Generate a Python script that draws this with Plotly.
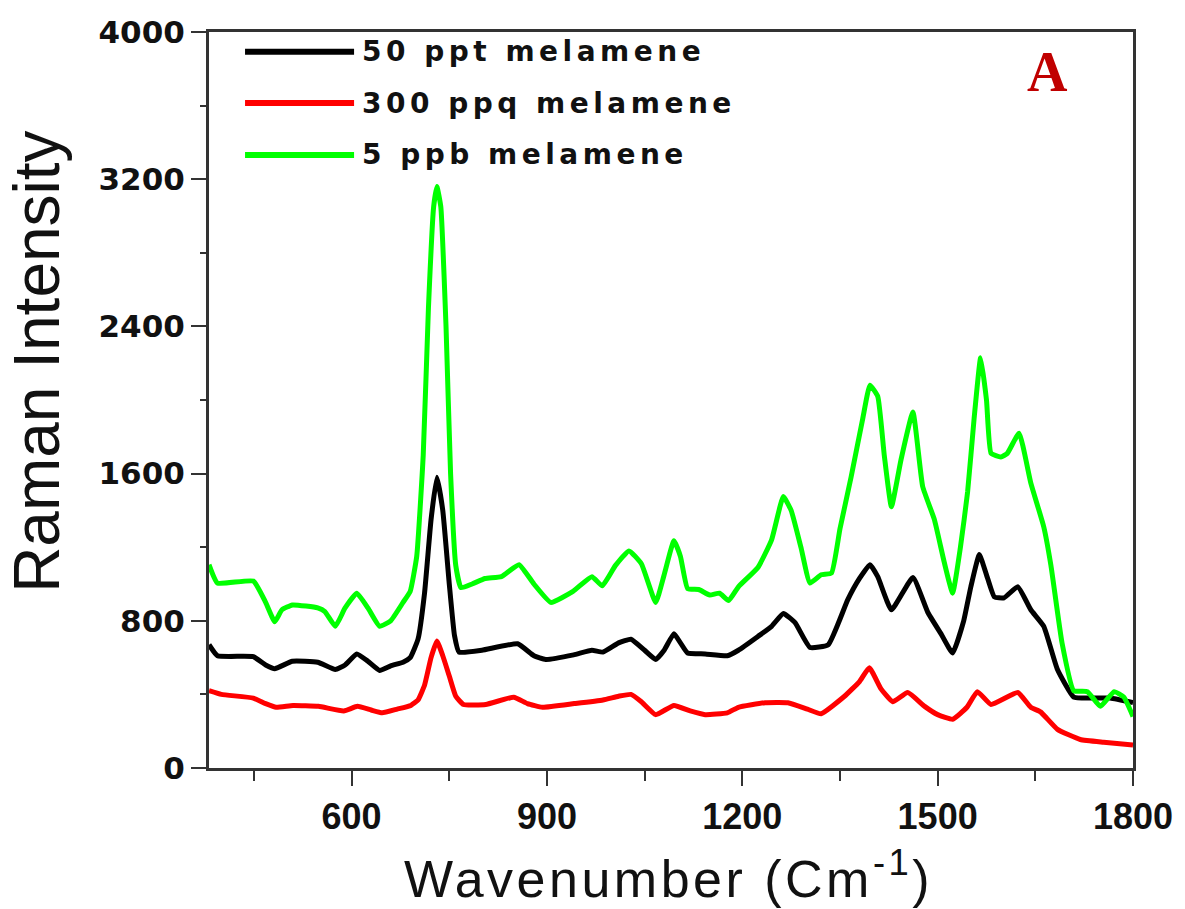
import plotly.graph_objects as go

# ---------------- data ----------------
series_names = ["50 ppt melamene", "300 ppq melamene", "5 ppb melamene"]
series_colors = ["#000000", "#ff0000", "#00ff00"]

x_black = [381, 394, 449, 468, 482, 509, 548, 575, 590, 608, 625, 643, 660, 679, 690, 702, 712, 722, 731,
           740, 750, 758, 765, 800, 855, 880, 898, 941, 969, 986, 1010, 1029, 1050, 1067, 1080, 1095, 1105,
           1116, 1143, 1177, 1194, 1224, 1245, 1263, 1281, 1304, 1332, 1362, 1380, 1396, 1408, 1429, 1462,
           1485, 1505, 1523, 1540, 1551, 1564, 1575, 1587, 1602, 1623, 1643, 1663, 1684, 1709, 1735, 1765, 1800]
y_black = [670, 610, 605, 560, 540, 580, 575, 535, 560, 620, 580, 530, 555, 575, 600, 700, 950, 1350, 1580,
           1400, 1000, 720, 630, 640, 675, 610, 590, 615, 640, 630, 680, 700, 640, 590, 640, 730, 680,
           625, 620, 610, 640, 715, 770, 840, 790, 655, 670, 915, 1030, 1105, 1040, 860, 1035,
           845, 730, 625, 800, 985, 1160, 1050, 930, 925, 985, 860, 770, 535, 385, 380, 380, 355]

x_red = [381, 400, 449, 468, 484, 510, 549, 588, 609, 630, 647, 670, 691, 702, 712, 722, 731, 740, 750, 760,
         772, 806, 849, 870, 893, 942, 986, 1010, 1029, 1045, 1067, 1095, 1120, 1143, 1177, 1194, 1235, 1270,
         1300, 1321, 1357, 1380, 1395, 1413, 1431, 1454, 1480, 1500, 1523, 1545, 1561, 1582, 1623, 1643, 1658,
         1684, 1719, 1755, 1800]
y_red = [420, 400, 380, 350, 330, 340, 335, 310, 335, 315, 300, 320, 340, 370, 450, 600, 690, 610, 500, 390,
         345, 345, 385, 350, 330, 350, 370, 390, 400, 360, 290, 340, 310, 290, 300, 330, 355, 355,
         320, 295, 390, 470, 545, 430, 360, 410, 335, 290, 265, 330, 415, 345, 410, 330, 305,
         210, 155, 140, 125]

x_green = [381, 394, 449, 468, 482, 493, 509, 530, 548, 559, 575, 590, 608, 625, 643, 660, 679, 690, 700, 710,
           718, 726, 731, 737, 745, 752, 760, 768, 785, 805, 830, 857, 880, 906, 940, 969, 985, 1005, 1026,
           1045, 1067, 1080, 1095, 1105, 1116, 1133, 1150, 1165, 1179, 1194, 1224, 1245, 1263, 1275, 1290,
           1304, 1321, 1337, 1350, 1367, 1385, 1396, 1408, 1418, 1429, 1444, 1462, 1477, 1495, 1510, 1523,
           1535, 1546, 1556, 1566, 1575, 1582, 1597, 1607, 1625, 1643, 1663, 1674, 1691, 1709, 1730, 1750,
           1771, 1786, 1800]
y_green = [1105, 1005, 1016, 900, 795, 860, 886, 880, 870, 850, 770, 870, 950, 870, 770, 800, 900, 960, 1150, 1700,
           2500, 3050, 3160, 3050, 2400, 1600, 1100, 980, 1000, 1030, 1040, 1105, 1000, 900, 960, 1040, 990, 1100, 1180,
           1110, 900, 1050, 1235, 1150, 975, 970, 940, 950, 910, 985, 1090, 1240, 1475, 1400, 1200,
           1005, 1050, 1060, 1300, 1580, 1900, 2080, 2020, 1700, 1420, 1680, 1935, 1530, 1350, 1120, 950,
           1200, 1500, 1900, 2230, 2000, 1710, 1690, 1710, 1820, 1550, 1310, 1100, 680, 420, 415, 335,
           415, 385, 280]

x_range = [381, 1800]
y_range = [0, 4000]
x_title = "Wavenumber (Cm<sup>-1</sup>)"
y_title = "Raman Intensity"
panel_label = "A"

# ---------------- figure ----------------
fig = go.Figure()
series = [(x_black, y_black), (x_red, y_red), (x_green, y_green)]
for (xs, ys), name, col in zip(series, series_names, series_colors):
    fig.add_trace(go.Scatter(x=xs, y=ys, mode="lines", name=name, showlegend=False,
                             line=dict(color=col, width=5, shape="spline", smoothing=0.4)))

# manual legend (long line samples, as in the reference)
legend_y = [0.973, 0.9035, 0.833]
for name, col, ly in zip(series_names, series_colors, legend_y):
    fig.add_shape(type="line", xref="paper", yref="paper", x0=0.039, x1=0.157, y0=ly, y1=ly,
                  line=dict(color=col, width=6))
    fig.add_annotation(xref="paper", yref="paper", x=0.163, y=ly,
                       text='<span style="letter-spacing:4.5px">' + name + '</span>', showarrow=False,
                       xanchor="left", yanchor="middle",
                       font=dict(family="DejaVu Sans", size=28, color="#111111", weight="bold"))

fig.add_annotation(xref="paper", yref="paper", x=0.908, y=0.946, text="<b>" + panel_label + "</b>",
                   showarrow=False, xanchor="center", yanchor="middle",
                   font=dict(family="Liberation Serif", size=56, color="#c00000"))

fig.add_annotation(xref="paper", yref="paper", x=0.497, y=-0.146,
                   text='<span style="letter-spacing:3.5px">' + x_title + '</span>', showarrow=False,
                   xanchor="center", yanchor="middle",
                   font=dict(family="Liberation Sans", size=52, color="#111111"))
fig.add_annotation(xref="paper", yref="paper", x=-0.186, y=0.552, text=y_title, showarrow=False,
                   textangle=-90, xanchor="center", yanchor="middle",
                   font=dict(family="Liberation Sans", size=64, color="#111111"))

fig.update_xaxes(range=x_range, tick0=0, dtick=300, ticks="outside", ticklen=15, tickwidth=2,
                 tickcolor="#333333", showgrid=False, zeroline=False, showline=True, linewidth=3,
                 linecolor="#333333", mirror=True,
                 tickfont=dict(family="Liberation Sans", size=36, color="#111111", weight="bold"),
                 minor=dict(ticks="outside", ticklen=10, tickwidth=2, tickcolor="#333333", dtick=150, tick0=0))
fig.update_yaxes(range=y_range, tick0=0, dtick=800, ticks="outside", ticklen=15, tickwidth=2,
                 tickcolor="#333333", showgrid=False, zeroline=False, showline=True, linewidth=3,
                 linecolor="#333333", mirror=True,
                 tickfont=dict(family="DejaVu Sans", size=31, color="#111111", weight="bold"),
                 minor=dict(ticks="outside", ticklen=6, tickwidth=2, tickcolor="#333333", dtick=400, tick0=0))

fig.update_layout(width=1185, height=909, paper_bgcolor="white", plot_bgcolor="white",
                  margin=dict(l=209, r=48, t=32, b=141), showlegend=False)

fig.write_html("out.html", config={"displayModeBar": False},
               post_script="document.body.style.margin='0';")
